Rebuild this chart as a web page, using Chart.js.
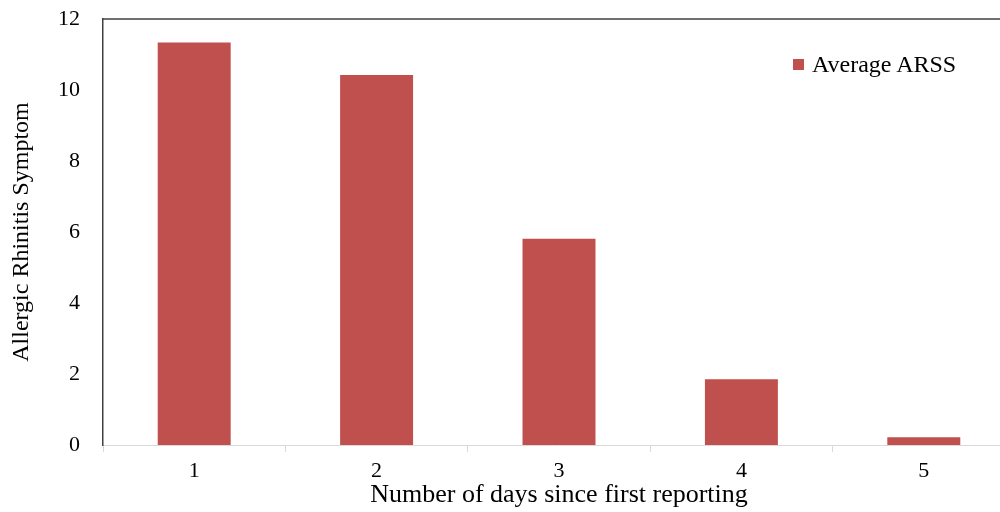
<!DOCTYPE html>
<html>
<head>
<meta charset="utf-8">
<script src="https://cdn.jsdelivr.net/npm/chart.js@4"></script>
<style>
  html, body { margin: 0; padding: 0; background: #fff; overflow: hidden; }
  #wrap { position: relative; width: 1015px; height: 512px; }
  #legend {
    position: absolute; left: 793px; top: 51px;
    font-family: "Liberation Serif", serif; font-size: 24px; color: #000;
    display: flex; align-items: center; white-space: nowrap;
  }
  #legend span.box { display: inline-block; width: 11px; height: 11px; margin-right: 8px; }
</style>
</head>
<body>
<div id="wrap">
  <canvas id="chart"></canvas>
  <div id="legend"></div>
</div>
<script>
const days = ["1", "2", "3", "4", "5"];
const averageArss = [11.34, 10.42, 5.81, 1.85, 0.22];
const yTicks = [0, 2, 4, 6, 8, 10, 12];

const seriesLabel = "Average ARSS";
const barColor = "#C0504D";
const serif = "'Liberation Serif', 'Times New Roman', serif";

const legendEl = document.getElementById("legend");
legendEl.innerHTML = '<span class="box" style="background:' + barColor + '"></span>' + seriesLabel;

// top edge of the plot frame
const topBorder = {
  id: "topBorder",
  afterDraw(chart) {
    const { ctx, chartArea } = chart;
    ctx.save();
    ctx.strokeStyle = "#404040";
    ctx.lineWidth = 1.5;
    ctx.beginPath();
    ctx.moveTo(chartArea.left, chartArea.top);
    ctx.lineTo(chartArea.right, chartArea.top);
    ctx.stroke();
    ctx.restore();
  }
};

new Chart(document.getElementById("chart"), {
  type: "bar",
  data: {
    labels: days,
    datasets: [
      {
        label: seriesLabel,
        data: averageArss,
        backgroundColor: barColor,
        borderWidth: 0,
        barPercentage: 0.4,
        categoryPercentage: 1
      }
    ]
  },
  options: {
    responsive: true,
    maintainAspectRatio: false,
    animation: false,
    layout: { padding: { top: 19, right: 0, left: 0, bottom: 0 } },
    plugins: {
      legend: { display: false },
      tooltip: { enabled: false }
    },
    scales: {
      x: {
        position: "bottom",
        grid: {
          display: true,
          drawOnChartArea: false,
          drawTicks: true,
          tickLength: 7,
          color: "#d9d9d9"
        },
        border: { color: "#d9d9d9", width: 1 },
        ticks: {
          color: "#000",
          padding: 6,
          font: { family: serif, size: 22 }
        },
        title: {
          display: true,
          text: "Number of days since first reporting",
          color: "#000",
          padding: { top: 0, bottom: 1 },
          font: { family: serif, size: 26 }
        },
        afterFit(scale) { scale.height = 67; }
      },
      y: {
        min: 0,
        max: 12,
        afterBuildTicks(scale) { scale.ticks = yTicks.map((v) => ({ value: v })); },
        grid: { display: false, drawTicks: false },
        border: { color: "#404040", width: 1.5 },
        ticks: {
          color: "#000",
          padding: 23,
          font: { family: serif, size: 22 }
        },
        title: {
          display: true,
          text: "Allergic Rhinitis Symptom",
          color: "#000",
          padding: { top: 7, bottom: 0 },
          font: { family: serif, size: 24 }
        },
        afterFit(scale) {
          scale.width = 103;
          scale.paddingTop = 0;
          scale.paddingBottom = 0;
        }
      }
    }
  },
  plugins: [topBorder]
});
</script>
</body>
</html>
